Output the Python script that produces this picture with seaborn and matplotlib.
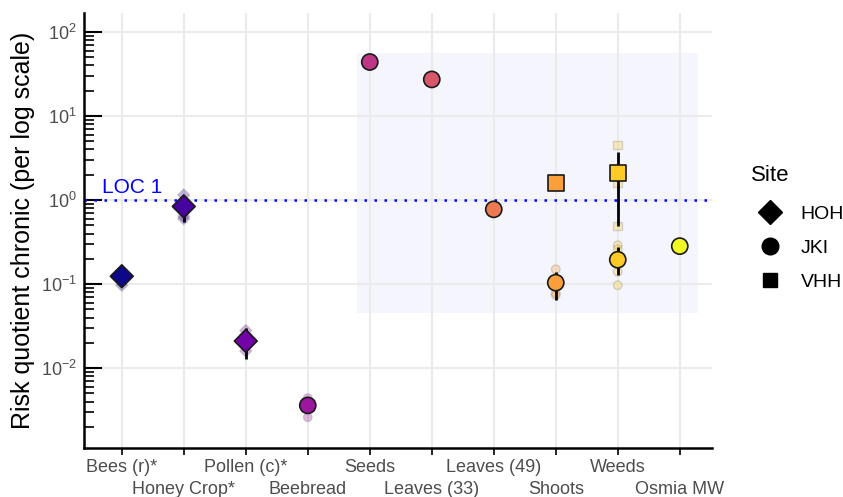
import matplotlib
matplotlib.use('Agg')

import matplotlib.pyplot as plt
from matplotlib.lines import Line2D
from matplotlib.patches import Rectangle
import seaborn as sns
import pandas as pd
import numpy as np

# categories on the x axis
categories = ["Bees (r)*", "Honey Crop*", "Pollen (c)*", "Beebread", "Seeds",
              "Leaves (33)", "Leaves (49)", "Shoots", "Weeds", "Osmia MW"]

# mean risk quotients (one row per category/site)
mean_cat = ["Bees (r)*", "Honey Crop*", "Pollen (c)*", "Beebread", "Seeds",
            "Leaves (33)", "Leaves (49)", "Shoots", "Shoots", "Weeds", "Weeds", "Osmia MW"]
mean_site = ["HOH", "HOH", "HOH", "JKI", "JKI", "JKI", "JKI", "VHH", "JKI", "VHH", "JKI", "JKI"]
mean_val = [0.124, 0.84, 0.021, 0.0036, 44.0, 27.3, 0.776, 1.59, 0.104, 2.1, 0.195, 0.283]
err_lo = [0.115, 0.55, 0.0128, 0.0029, 44.0, 27.3, 0.776, 1.59, 0.064, 0.49, 0.127, 0.283]
err_hi = [0.13, 1.0, 0.030, 0.0045, 44.0, 27.3, 0.776, 1.59, 0.14, 3.7, 0.28, 0.283]

# single samples (faint points)
rep_cat = ["Bees (r)*", "Bees (r)*",
           "Honey Crop*", "Honey Crop*", "Honey Crop*", "Honey Crop*",
           "Pollen (c)*", "Pollen (c)*", "Pollen (c)*",
           "Beebread", "Beebread",
           "Shoots", "Shoots", "Shoots", "Shoots",
           "Weeds", "Weeds", "Weeds",
           "Weeds", "Weeds", "Weeds", "Weeds"]
rep_site = ["HOH", "HOH",
            "HOH", "HOH", "HOH", "HOH",
            "HOH", "HOH", "HOH",
            "JKI", "JKI",
            "VHH", "JKI", "JKI", "JKI",
            "VHH", "VHH", "VHH",
            "JKI", "JKI", "JKI", "JKI"]
rep_val = [0.097, 0.11,
           1.15, 1.0, 0.64, 0.60,
           0.028, 0.025, 0.016,
           0.0044, 0.0026,
           1.62, 0.15, 0.078, 0.074,
           4.5, 1.6, 0.49,
           0.29, 0.26, 0.14, 0.097]

site_markers = {"HOH": "D", "JKI": "o", "VHH": "s"}

plt.rcParams['font.family'] = ['Liberation Sans', 'DejaVu Sans']

pos = {c: i for i, c in enumerate(categories)}
cols = plt.get_cmap('plasma')(np.linspace(0, 1, len(categories)))
palette = {c: cols[i] for i, c in enumerate(categories)}

means = pd.DataFrame({'cat': mean_cat, 'Site': mean_site, 'rq': mean_val,
                      'lo': err_lo, 'hi': err_hi})
means['x'] = means['cat'].map(pos)
reps = pd.DataFrame({'cat': rep_cat, 'Site': rep_site, 'rq': rep_val})
reps['x'] = reps['cat'].map(pos)

fig = plt.figure(figsize=(8.43, 4.97), dpi=100)
ax = fig.add_axes([0.0996, 0.0986, 0.745, 0.875])
ax.set_yscale('log')
ax.set_xlim(-0.61, 9.52)
ax.set_ylim(0.00112, 168)

# grid
ax.set_axisbelow(True)
ax.grid(True, which='major', axis='y', color='#ebebeb', lw=1.5)

# highlighted region
ax.add_patch(Rectangle((3.8, 0.045), 5.49, 56 - 0.045, facecolor='#f5f5fd',
                       edgecolor='none', zorder=0.5))

# LOC line
ax.axhline(1, color='blue', ls=(0, (1, 3)), lw=1.8, zorder=1)
ax.text(-0.32, 1.08, 'LOC 1', color='blue', fontsize=15, ha='left', va='bottom')

# faint single values
sns.scatterplot(data=reps, x='x', y='rq', hue='cat', palette=palette, style='Site',
                markers=site_markers, s=38, alpha=0.3, edgecolor='grey',
                linewidth=1, legend=False, ax=ax, zorder=2)

# error bars
ax.vlines(means['x'], means['lo'], means['hi'], color='black', lw=2, zorder=3)

# means
sns.scatterplot(data=means, x='x', y='rq', hue='cat', palette=palette, style='Site',
                markers=site_markers, s=135, edgecolor='#1a1a1a', linewidth=1.2,
                legend=False, ax=ax, zorder=4)

# axes styling
for s in ['top', 'right']:
    ax.spines[s].set_visible(False)
for s in ['left', 'bottom']:
    ax.spines[s].set_linewidth(1.8)
    ax.spines[s].set_color('black')

# staggered category labels: even ones on major ticks, odd ones on minor ticks
even = list(range(0, len(categories), 2))
odd = list(range(1, len(categories), 2))
ax.set_xticks(even, [categories[i] for i in even])
ax.set_xticks(odd, [categories[i] for i in odd], minor=True)
for lab in ax.get_xticklabels(which='both'):
    lab.set_color('#4d4d4d')
ax.tick_params(axis='x', which='major', direction='out', length=5, width=1.2,
               pad=3, labelsize=13)
ax.tick_params(axis='x', which='minor', direction='out', length=5, width=1.2,
               pad=19, labelsize=13)
ax.grid(True, which='both', axis='x', color='#ebebeb', lw=1.5)
ax.tick_params(axis='y', which='major', direction='in', length=13, width=1.5,
               labelsize=13, labelcolor='#4d4d4d', pad=5)
ax.tick_params(axis='y', which='minor', direction='in', length=7, width=1.2)
ax.set_xlabel('')
ax.set_ylabel('Risk quotient chronic (per log scale)', fontsize=18, color='black',
              labelpad=4)

# legend for site
handles = [Line2D([], [], marker=site_markers[k], color='black', ls='none',
                  markersize={'HOH': 12, 'JKI': 12, 'VHH': 10}[k], label=k)
           for k in ['HOH', 'JKI', 'VHH']]
leg = fig.legend(handles=handles, title='Site', loc='center left',
                 bbox_to_anchor=(0.87, 0.541), frameon=False, fontsize=14,
                 title_fontsize=16, labelspacing=0.85, handletextpad=0.55)
leg._legend_box.align = 'left'
leg._legend_box.sep = 14

fig.savefig('out.png', dpi=100)
